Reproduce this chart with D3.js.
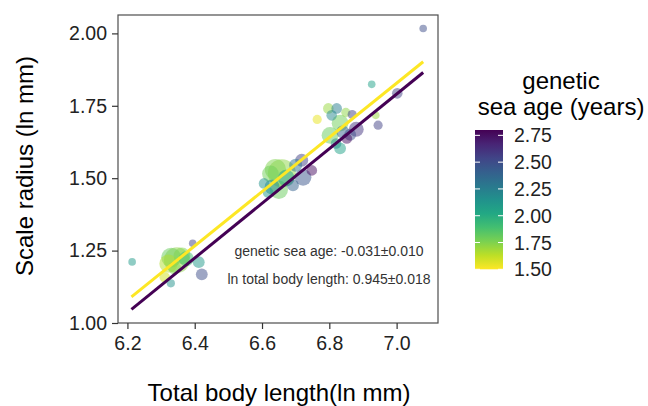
<!DOCTYPE html>
<html>
<head>
<meta charset="utf-8">
<script src="https://cdn.jsdelivr.net/npm/d3@7"></script>
<style>
  body { margin: 0; background: #fff; }
  text { font-family: "Liberation Sans", Arial, sans-serif; }
</style>
</head>
<body>
<div id="chart"></div>
<script>
// Data
// Each fish group: total body length (ln mm), scale radius (ln mm), genetic sea age, weight (point size)
var body_length = [6.214, 6.394, 6.347, 6.330, 6.322, 6.362, 6.375, 6.412, 6.421, 6.329, 6.311, 6.340,
  6.606, 6.618, 6.659, 6.640, 6.672, 6.630, 6.718, 6.748, 6.722, 6.692, 6.700, 6.650, 6.625,
  6.764, 6.797, 6.822, 6.807, 6.849, 6.868, 6.832, 6.880, 6.802, 6.852, 6.832, 6.820, 6.840, 6.862, 6.945,
  6.938, 6.926, 7.002, 7.079];
var scale_radius = [1.211, 1.275, 1.217, 1.226, 1.205, 1.232, 1.222, 1.210, 1.168, 1.137, 1.158, 1.190,
  1.482, 1.451, 1.517, 1.530, 1.500, 1.470, 1.562, 1.527, 1.503, 1.475, 1.545, 1.460, 1.515,
  1.703, 1.741, 1.741, 1.717, 1.727, 1.720, 1.690, 1.669, 1.648, 1.637, 1.603, 1.620, 1.660, 1.650, 1.683,
  1.717, 1.824, 1.793, 2.017];
var sea_age = [2.10, 2.55, 1.72, 1.80, 1.65, 1.75, 1.90, 2.10, 2.50, 2.15, 1.60, 1.75,
  2.15, 2.10, 1.72, 1.75, 2.05, 2.20, 2.55, 2.75, 2.45, 2.40, 2.30, 1.80, 1.78,
  1.55, 1.70, 2.25, 2.20, 1.72, 2.55, 1.78, 2.60, 1.80, 2.75, 2.05, 2.15, 2.40, 2.50, 2.55,
  1.70, 2.05, 2.55, 2.50];
var weight = [1, 1, 12, 7, 6, 5, 4, 2.5, 2.5, 1.2, 2, 3,
  2, 2, 14, 8, 5, 4, 3, 2, 5, 2.5, 3, 6, 5,
  1.5, 2, 2, 2, 1.5, 1.5, 5, 4, 5, 2, 2.5, 2, 3, 2.5, 1.5,
  1, 1, 2, 1];

// Fitted lines at the two ends of the colour scale
var fit_x = [6.212, 7.079];
var fit_low_age = [1.090, 1.902];   // sea age 1.5
var fit_high_age = [1.047, 1.865];  // sea age 2.8

// Axis ticks
var x_ticks = [6.2, 6.4, 6.6, 6.8, 7.0];
var y_ticks = [1.00, 1.25, 1.50, 1.75, 2.00];
var legend_ticks = [1.50, 1.75, 2.00, 2.25, 2.50, 2.75];

var annotations = ["genetic sea age: -0.031\u00b10.010", "ln total body length: 0.945\u00b10.018"];

(function () {
  "use strict";

  var W = 648, H = 406;
  var panel = { left: 118, right: 438, top: 15, bottom: 323 };
  var tick_font = 19.5, title_font = 24;

  var svg = d3.select("#chart").append("svg")
    .attr("width", W)
    .attr("height", H);

  ////////////////////////////////////////////////////////////////////////////////
  //
  // Scales
  //
  var x = d3.scaleLinear().domain([6.172, 7.123]).range([panel.left, panel.right]);
  var y = d3.scaleLinear().domain([1.0, 2.0635]).range([panel.bottom, panel.top]);
  var age_min = 1.5, age_max = 2.8;
  var color = d3.scaleSequential(function (t) { return d3.interpolateViridis(1 - t); })
    .domain([age_min, age_max]);
  var r = d3.scaleSqrt().domain([0, 14]).range([0, 14]);

  ////////////////////////////////////////////////////////////////////////////////
  //
  // Points
  //
  var points = body_length.map(function (d, i) {
    return { x: d, y: scale_radius[i], age: sea_age[i], w: weight[i] };
  });
  // Big ones first so the small ones stay visible
  points.sort(function (a, b) { return b.w - a.w; });

  svg.append("g")
    .selectAll("circle")
    .data(points)
    .enter()
    .append("circle")
    .attr("cx", function (d) { return x(d.x); })
    .attr("cy", function (d) { return y(d.y); })
    .attr("r", function (d) { return Math.max(3.8, r(d.w)); })
    .attr("fill", function (d) { return color(d.age); })
    .attr("fill-opacity", 0.5);

  ////////////////////////////////////////////////////////////////////////////////
  //
  // Fitted lines
  //
  var line = d3.line()
    .x(function (d) { return x(d[0]); })
    .y(function (d) { return y(d[1]); });

  [[fit_high_age, age_max], [fit_low_age, age_min]].forEach(function (f) {
    svg.append("path")
      .attr("d", line(fit_x.map(function (v, i) { return [v, f[0][i]]; })))
      .attr("fill", "none")
      .attr("stroke", color(f[1]))
      .attr("stroke-width", 3);
  });

  // Annotation text
  svg.append("g")
    .selectAll("text")
    .data(annotations)
    .enter()
    .append("text")
    .attr("x", 329)
    .attr("y", function (d, i) { return 255.5 + i * 28.5; })
    .attr("text-anchor", "middle")
    .attr("font-size", 14)
    .attr("fill", "#333")
    .text(function (d) { return d; });

  ////////////////////////////////////////////////////////////////////////////////
  //
  // Panel border and axes
  //
  svg.append("rect")
    .attr("x", panel.left)
    .attr("y", panel.top)
    .attr("width", panel.right - panel.left)
    .attr("height", panel.bottom - panel.top)
    .attr("fill", "none")
    .attr("stroke", "#4d4d4d")
    .attr("stroke-width", 1.2);

  var x_axis = svg.append("g")
    .attr("transform", "translate(0," + panel.bottom + ")")
    .call(d3.axisBottom(x).tickValues(x_ticks).tickFormat(d3.format(".1f")).tickSize(6).tickPadding(7));
  var y_axis = svg.append("g")
    .attr("transform", "translate(" + panel.left + ",0)")
    .call(d3.axisLeft(y).tickValues(y_ticks).tickFormat(d3.format(".2f")).tickSize(6).tickPadding(5));

  [x_axis, y_axis].forEach(function (a) {
    a.select(".domain").remove();
    a.selectAll(".tick line").attr("stroke", "#333").attr("stroke-width", 1.2);
    a.selectAll(".tick text")
      .attr("font-size", tick_font)
      .attr("fill", "#222")
      .attr("font-family", "Liberation Sans, Arial, sans-serif");
  });

  // Axis titles
  svg.append("text")
    .attr("x", 279)
    .attr("y", 401)
    .attr("text-anchor", "middle")
    .attr("font-size", title_font)
    .attr("fill", "#000")
    .text("Total body length(ln mm)");

  svg.append("text")
    .attr("transform", "translate(33,166) rotate(-90)")
    .attr("text-anchor", "middle")
    .attr("font-size", title_font)
    .attr("fill", "#000")
    .text("Scale radius (ln mm)");

  ////////////////////////////////////////////////////////////////////////////////
  //
  // Colour bar legend
  //
  var bar = { x: 475, w: 28, top: 130, bottom: 269.3 };
  var ly = d3.scaleLinear().domain([age_min, age_max]).range([bar.bottom, bar.top]);
  var grad_id = "age-gradient";

  svg.append("defs")
    .append("linearGradient")
    .attr("id", grad_id)
    .attr("x1", "0%").attr("y1", "100%")
    .attr("x2", "0%").attr("y2", "0%")
    .selectAll("stop")
    .data(d3.range(0, 1.0001, 0.1))
    .enter()
    .append("stop")
    .attr("offset", function (d) { return d; })
    .attr("stop-color", function (d) { return color(age_min + d * (age_max - age_min)); });

  svg.append("rect")
    .attr("x", bar.x)
    .attr("y", bar.top)
    .attr("width", bar.w)
    .attr("height", bar.bottom - bar.top)
    .style("fill", "url(#" + grad_id + ")");

  var legend_tick = svg.append("g")
    .selectAll("g")
    .data(legend_ticks)
    .enter()
    .append("g")
    .attr("transform", function (d) { return "translate(0," + ly(d) + ")"; });

  legend_tick.append("line")
    .attr("x1", bar.x).attr("x2", bar.x + 5)
    .attr("stroke", "#fff").attr("stroke-width", 1);
  legend_tick.append("line")
    .attr("x1", bar.x + bar.w - 5).attr("x2", bar.x + bar.w)
    .attr("stroke", "#fff").attr("stroke-width", 1);
  legend_tick.append("text")
    .attr("x", 514)
    .attr("dy", "0.36em")
    .attr("font-size", tick_font)
    .attr("fill", "#222")
    .text(function (d) { return d.toFixed(2); });

  // Legend title
  svg.append("text")
    .attr("x", 561)
    .attr("y", 89)
    .attr("text-anchor", "middle")
    .attr("font-size", title_font)
    .attr("fill", "#000")
    .text("genetic");
  svg.append("text")
    .attr("x", 561)
    .attr("y", 115)
    .attr("text-anchor", "middle")
    .attr("font-size", title_font)
    .attr("fill", "#000")
    .text("sea age (years)");
})();
</script>
</body>
</html>
